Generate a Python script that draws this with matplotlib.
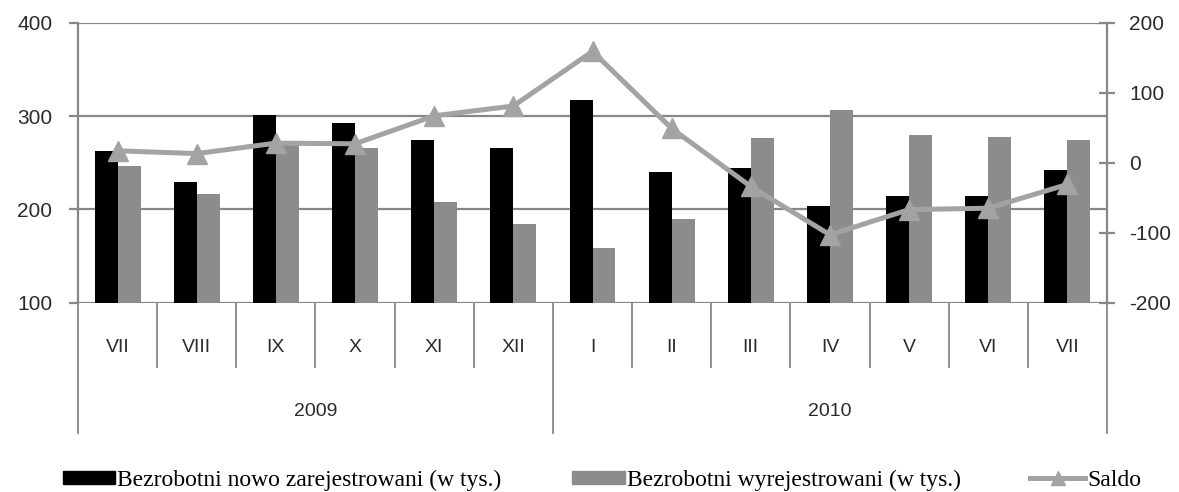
import matplotlib.pyplot as plt
import numpy as np
from matplotlib.patches import Patch
from matplotlib.lines import Line2D

plt.rcParams['axes.unicode_minus'] = False

months = ['VII', 'VIII', 'IX', 'X', 'XI', 'XII', 'I', 'II', 'III', 'IV', 'V', 'VI', 'VII']
years = ['2009', '2010']
year_counts = [6, 7]

nowo = [263, 229, 301, 293, 274, 266, 317, 240, 244, 204, 214, 214, 242]
wyrej = [247, 216, 271, 266, 208, 184, 159, 190, 276, 306, 280, 278, 274]
saldo = [17, 13, 28, 27, 67, 81, 159, 49, -34, -103, -67, -65, -31]

W, H = 1179, 492
fig = plt.figure(figsize=(W / 100, H / 100), dpi=100)

# obszar wykresu w pikselach
x0, x1, y0, y1 = 78, 1107, 22.7, 302.7
ax = fig.add_axes([x0 / W, 1 - y1 / H, (x1 - x0) / W, (y1 - y0) / H])
ax2 = ax.twinx()

grid_c = '#878787'
txt_c = '#2b2b2b'
sans = 'Liberation Sans'
black_c, gray_c, line_c = 'black', '#8c8c8c', '#a3a3a3'

x = np.arange(len(months))
bw = 0.29
ax.bar(x - bw / 2, np.array(nowo) - 100, bw, bottom=100, color=black_c, zorder=3)
ax.bar(x + bw / 2, np.array(wyrej) - 100, bw, bottom=100, color=gray_c, zorder=3)
ax2.plot(x, saldo, color=line_c, lw=3.6, marker='^', ms=14, zorder=4)

ax.set_xlim(-0.5, len(months) - 0.5)
ax.set_ylim(100, 400)
ax2.set_ylim(-200, 200)
ax.set_yticks([100, 200, 300, 400])
ax2.set_yticks([-200, -100, 0, 100, 200])
ax.yaxis.grid(True, color=grid_c, lw=1.6, zorder=0)
ax.set_axisbelow(True)
ax.set_xticks([])

for a in (ax, ax2):
    for s in ('top', 'bottom', 'left', 'right'):
        a.spines[s].set_visible(False)
ax.spines['left'].set_visible(True)
ax.spines['left'].set_color(grid_c)
ax.spines['left'].set_linewidth(1.6)
ax2.spines['right'].set_visible(True)
ax2.spines['right'].set_color(grid_c)
ax2.spines['right'].set_linewidth(1.6)

ax.tick_params(axis='y', length=6.5, width=1.6, color=grid_c, pad=12,
               labelsize=15, labelcolor=txt_c)
ax2.tick_params(axis='y', direction='inout', length=12, width=1.6, color=grid_c,
                pad=10, labelsize=15, labelcolor=txt_c)
for lab in ax.get_yticklabels() + ax2.get_yticklabels():
    lab.set_family(sans)

# os kategorii pod wykresem
tr = ax.get_xaxis_transform()
ph = y1 - y0
month_bot = -(367 - y1) / ph
year_bot = -(433 - y1) / ph
for i in range(len(months) + 1):
    xb = i - 0.5
    bot = month_bot
    if i in (0, year_counts[0], len(months)):
        bot = year_bot
    ax.plot([xb, xb], [0, bot], color=grid_c, lw=1.3, transform=tr, clip_on=False)
for i, m in enumerate(months):
    ax.text(i, -(347 - y1) / ph, m, transform=tr, ha='center', va='center',
            fontsize=14, color=txt_c, family=sans)
start = 0
for yr, n in zip(years, year_counts):
    ax.text(start + (n - 1) / 2, -(412 - y1) / ph, yr, transform=tr, ha='center',
            va='center', fontsize=14, color=txt_c, family=sans)
    start += n

# legenda - trzy osobne wpisy
entries = [
    (Patch(color=black_c), 'Bezrobotni nowo zarejestrowani (w tys.)', 63, 2.2),
    (Patch(color=gray_c), 'Bezrobotni wyrejestrowani (w tys.)', 572, 2.25),
    (Line2D([0], [0], color=line_c, lw=3.6, marker='^', ms=10), 'Saldo', 1030, 2.35),
]
for h, lab, xpx, hl in entries:
    fig.legend([h], [lab], loc='center left', bbox_to_anchor=(xpx / W, 1 - 480 / H),
               frameon=False, handlelength=hl, handleheight=0.47, handletextpad=0.08,
               borderpad=0, borderaxespad=0,
               prop={'family': 'Liberation Serif', 'size': 17})

fig.savefig('out.png', dpi=100)
